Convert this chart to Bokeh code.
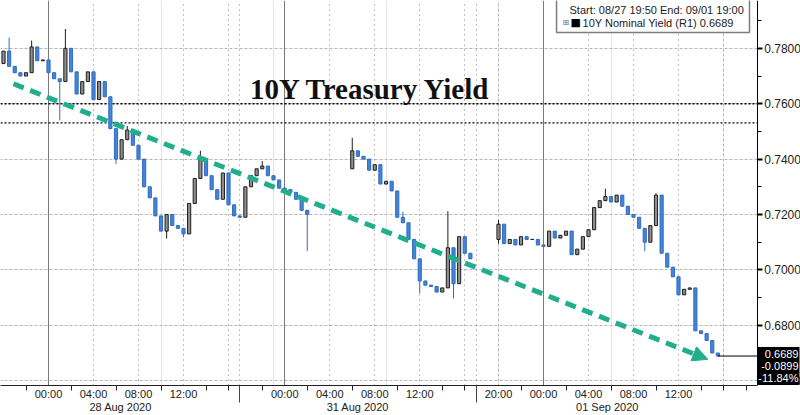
import pandas as pd
from bokeh.plotting import figure
from bokeh.models import (LinearAxis, FixedTicker, Range1d, Grid, Label,
                          Arrow, NormalHead, ColumnDataSource, NumeralTickFormatter)
from bokeh.embed import file_html
from bokeh.resources import INLINE

# ---------------- data ----------------
seg_start = ["2020-08-27 19:50", "2020-08-30 20:00", "2020-08-31 18:00"]
seg_end = ["2020-08-28 17:00", "2020-08-31 17:00", "2020-09-01 19:00"]
axis_origin = "2020-08-28 00:00"
date_labels = ["28 Aug 2020", "31 Aug 2020", "01 Sep 2020"]
date_label_t = ["2020-08-28 06:25", "2020-08-31 06:30", "2020-09-01 05:40"]

s1_times = (list(pd.date_range("2020-08-27 20:00", "2020-08-28 17:00", freq="30min")) +
            list(pd.date_range("2020-08-30 20:30", "2020-08-31 02:00", freq="30min")))
s1_open = 0.7745
s1_close = [0.7790, 0.7735, 0.7712, 0.7700, 0.7712, 0.7805, 0.7755, 0.7758, 0.7712, 0.7690,
            0.7680, 0.7800, 0.7715, 0.7635, 0.7680, 0.7715, 0.7615, 0.7680, 0.7625, 0.7510,
            0.7400, 0.7470, 0.7505, 0.7450, 0.7400, 0.7300, 0.7260, 0.7195, 0.7140, 0.7200,
            0.7160, 0.7150, 0.7130, 0.7240, 0.7330, 0.7400, 0.7340, 0.7290, 0.7255, 0.7350,
            0.7235, 0.7195, 0.7190, 0.7300, 0.7340, 0.7365, 0.7375, 0.7340, 0.7325, 0.7295,
            0.7290, 0.7280, 0.7255, 0.7215, 0.7200]

s2_times = list(pd.date_range("2020-08-31 06:00", "2020-08-31 16:30", freq="30min"))
s2_open = 0.7365
s2_close = [0.7430, 0.7410, 0.7400, 0.7360, 0.7380, 0.7310, 0.7320, 0.7285, 0.7190, 0.7170,
            0.7110, 0.7040, 0.6960, 0.6945, 0.6940, 0.6920, 0.6935, 0.7080, 0.6950, 0.7120,
            0.7060, 0.7040]

s3_times = list(pd.date_range("2020-08-31 20:00", "2020-09-01 15:30", freq="30min"))
s3_open = 0.7110
s3_close = [0.7165, 0.7095, 0.7110, 0.7090, 0.7120, 0.7110, 0.7110, 0.7090, 0.7085, 0.7140,
            0.7115, 0.7125, 0.7140, 0.7055, 0.7075, 0.7120, 0.7145, 0.7225, 0.7250, 0.7265,
            0.7245, 0.7270, 0.7230, 0.7200, 0.7190, 0.7150, 0.7100, 0.7160, 0.7270, 0.7060,
            0.7010, 0.6975, 0.6910, 0.6930, 0.6935, 0.6780, 0.6770, 0.6745, 0.6700, 0.6689]

hi_t = ["2020-08-27 20:30", "2020-08-27 22:30", "2020-08-28 01:30", "2020-08-28 07:00",
        "2020-08-28 13:30", "2020-08-30 22:00", "2020-08-31 06:00", "2020-08-31 10:30",
        "2020-08-31 14:30", "2020-08-31 20:00", "2020-09-01 05:30", "2020-09-01 10:00"]
hi_v = [0.7839, 0.7828, 0.7870, 0.7520, 0.7430, 0.7393, 0.7477, 0.7210, 0.7212, 0.7180,
        0.7293, 0.7277]
lo_t = ["2020-08-28 01:00", "2020-08-28 06:00", "2020-08-28 10:30", "2020-08-28 12:00",
        "2020-08-31 02:00", "2020-08-31 12:00", "2020-08-31 15:00", "2020-08-31 20:00",
        "2020-09-01 09:00"]
lo_v = [0.7540, 0.7383, 0.7113, 0.7118, 0.7068, 0.6915, 0.6897, 0.7095, 0.7067]

trend_t = ["2020-08-27 20:53", "2020-09-01 14:36"]
trend_v = [0.7672, 0.6677]

ref_lines = [0.7600, 0.7531]

y_ticks = [0.66, 0.68, 0.70, 0.72, 0.74, 0.76, 0.78]
y_minor = [0.67, 0.69, 0.71, 0.73, 0.75, 0.77, 0.79]
time_tick_t = ["2020-08-28 00:00", "2020-08-28 04:00", "2020-08-28 08:00", "2020-08-28 12:00",
               "2020-08-31 00:00", "2020-08-31 04:00", "2020-08-31 08:00", "2020-08-31 12:00",
               "2020-08-31 20:00", "2020-09-01 00:00", "2020-09-01 04:00", "2020-09-01 08:00",
               "2020-09-01 12:00"]
time_tick_labels = ["00:00", "04:00", "08:00", "12:00", "00:00", "04:00", "08:00", "12:00",
                    "20:00", "00:00", "04:00", "08:00", "12:00"]
minor_tick_t = ["2020-08-27 22:00", "2020-08-28 02:00", "2020-08-28 06:00", "2020-08-28 10:00",
                "2020-08-28 14:00", "2020-08-28 16:00", "2020-08-30 22:00", "2020-08-31 02:00",
                "2020-08-31 06:00", "2020-08-31 10:00", "2020-08-31 14:00", "2020-08-31 16:00",
                "2020-08-31 22:00", "2020-09-01 02:00", "2020-09-01 06:00", "2020-09-01 10:00",
                "2020-09-01 14:00", "2020-09-01 16:00", "2020-09-01 18:00"]
dotted_v_t = ["2020-08-28 04:00", "2020-08-28 08:00", "2020-08-28 12:00", "2020-08-28 16:00",
              "2020-08-28 17:00", "2020-08-31 04:00", "2020-08-31 08:00", "2020-08-31 12:00",
              "2020-08-31 16:00", "2020-08-31 17:00", "2020-08-31 20:00", "2020-09-01 04:00",
              "2020-09-01 08:00", "2020-09-01 12:00", "2020-09-01 16:00"]
solid_v_t = ["2020-08-28 00:00", "2020-08-31 00:00", "2020-09-01 00:00"]

legend_line1 = "Start: 08/27 19:50 End: 09/01 19:00"
legend_series = "10Y Nominal Yield (R1) 0.6689"
last_price = 0.6689
tag_lines = ["0.6689", "-0.0899", "-11.84%"]
title_text = "10Y Treasury Yield"

# ---------------- compressed time mapping ----------------
HOUR = pd.Timedelta(hours=1)
segs = [(pd.Timestamp(s), pd.Timestamp(e)) for s, e in zip(seg_start, seg_end)]
bases = []
b = (segs[0][0] - pd.Timestamp(axis_origin)) / HOUR
for s, e in segs:
    bases.append(b)
    b += (e - s) / HOUR
seg_ends_x = [bs + (e - s) / HOUR for (s, e), bs in zip(segs, bases)]
X_AXIS = seg_ends_x[-1]          # right axis sits at the end of the window


def xpos(t):
    t = pd.Timestamp(t)
    for (s, e), bs in zip(segs, bases):
        if s <= t <= e:
            return bs + (t - s) / HOUR
    raise ValueError(str(t))


hi_map = {pd.Timestamp(t): v for t, v in zip(hi_t, hi_v)}
lo_map = {pd.Timestamp(t): v for t, v in zip(lo_t, lo_v)}

UP_FILL, UP_LINE = "#8f8f8f", "#1e1e1e"
DN_FILL, DN_LINE = "#4384d8", "#2f6cc0"

cols = dict(x=[], top=[], bottom=[], high=[], low=[], fill=[], line=[])
for times, o0, closes in [(s1_times, s1_open, s1_close),
                          (s2_times, s2_open, s2_close),
                          (s3_times, s3_open, s3_close)]:
    opens = [o0] + closes[:-1]
    for t, o, c in zip(times, opens, closes):
        t = pd.Timestamp(t)
        up = c >= o
        cols["x"].append(xpos(t))
        cols["top"].append(max(o, c))
        cols["bottom"].append(min(o, c))
        cols["high"].append(max(o, c, hi_map.get(t, -1)))
        cols["low"].append(min(o, c, lo_map.get(t, 9)))
        cols["fill"].append(UP_FILL if up else DN_FILL)
        cols["line"].append(UP_LINE if up else DN_LINE)
src = ColumnDataSource(cols)

PX_PER_H = 11.25
X0 = -4.267
X1 = X0 + 800 / PX_PER_H
Y1 = 0.79727
Y0 = 0.65826

p = figure(width=800, height=415, output_backend="svg", toolbar_location=None,
           x_range=Range1d(X0, X1), y_range=Range1d(Y0, Y1),
           x_axis_location=None, y_axis_location=None,
           min_border_left=0, min_border_top=0, min_border_bottom=0, min_border_right=0)
p.outline_line_color = None
p.background_fill_color = "white"
p.border_fill_color = "white"

FONT = "Liberation Sans"
TXT = "#222222"

p.add_layout(Grid(dimension=1, ticker=FixedTicker(ticks=y_ticks),
                  grid_line_color="#808080", grid_line_dash="1 4", grid_line_width=1))
p.add_layout(Grid(dimension=0, ticker=FixedTicker(ticks=[xpos(t) for t in dotted_v_t]),
                  grid_line_color="#808080", grid_line_dash="1 4", grid_line_width=1))
p.add_layout(Grid(dimension=0, ticker=FixedTicker(ticks=[xpos(t) for t in solid_v_t]),
                  grid_line_color="#7a7a7a", grid_line_width=1))

# drawn reference lines (stop at the axis)
p.segment(x0=[X0] * len(ref_lines), y0=ref_lines, x1=[X_AXIS] * len(ref_lines), y1=ref_lines,
          line_color="black", line_dash="2 2", line_width=[1.6, 1.1])

p.segment(x0="x", y0="low", x1="x", y1="high", line_color="line", line_width=1, source=src)
p.vbar(x="x", width=0.28, top="top", bottom="bottom", fill_color="fill",
       line_color="line", line_width=1, source=src)

last_x = cols["x"][-1]
p.segment(x0=[last_x], y0=[last_price], x1=[X_AXIS], y1=[last_price],
          line_color="black", line_width=1)

# blank margin to the right of the axis (hides grid lines there)
p.quad(left=[X_AXIS], right=[X1 + 1], bottom=[Y0 - 1], top=[Y1 + 1],
       fill_color="white", line_color=None)

TEAL = "#21ae8c"
p.add_layout(Arrow(end=NormalHead(size=15, fill_color=TEAL, line_color=TEAL),
                   x_start=xpos(trend_t[0]), y_start=trend_v[0],
                   x_end=xpos(trend_t[1]), y_end=trend_v[1],
                   line_color=TEAL, line_width=5, line_dash="11 7"))

p.add_layout(Label(x=28.62, y=0.76541, text=title_text, text_align="center",
                   text_baseline="alphabetic", text_font="Liberation Serif",
                   text_font_style="bold", text_font_size="29px", text_color="#111111"))

# legend box
p.quad(left=[45.16], right=[62.31], bottom=[0.78568], top=[0.80], fill_color="white",
       line_color="#7d7d7d", line_width=1.5)
p.add_layout(Label(x=46.31, y=0.79401, text=legend_line1, text_baseline="middle",
                   text_font=FONT, text_font_size="11px", text_color=TXT))
p.add_layout(Label(x=45.69, y=0.7893, text="\u229e", text_baseline="middle",
                   text_font="DejaVu Sans", text_font_size="8px", text_color="#666666"))
p.add_layout(Label(x=46.4, y=0.7893, text="\u25a0", text_baseline="middle",
                   text_font="DejaVu Sans", text_font_size="11px", text_color="black"))
p.add_layout(Label(x=47.47, y=0.7893, text=legend_series, text_baseline="middle",
                   text_font=FONT, text_font_size="11px", text_color=TXT))

# right axis at the end of the time window
ya = LinearAxis(fixed_location=X_AXIS,
                ticker=FixedTicker(ticks=y_ticks, minor_ticks=y_minor),
                formatter=NumeralTickFormatter(format="0.0000"),
                axis_line_color="black", major_tick_out=5, major_tick_in=0,
                major_tick_line_width=2, minor_tick_out=4, minor_tick_in=0,
                major_label_standoff=2, major_label_text_font=FONT,
                major_label_text_font_size="12px", major_label_text_color=TXT)
p.add_layout(ya, "right")

tick_x = [xpos(t) for t in time_tick_t]
ta = LinearAxis(ticker=FixedTicker(ticks=tick_x, minor_ticks=[xpos(t) for t in minor_tick_t]),
                major_label_overrides={x: l for x, l in zip(tick_x, time_tick_labels)},
                bounds=(X0, X_AXIS),
                major_tick_out=0, major_tick_in=0, minor_tick_out=5, minor_tick_in=0,
                axis_line_color="#222222", minor_tick_line_color="#222222",
                major_label_standoff=-3, major_label_text_font=FONT,
                major_label_text_font_size="11px", major_label_text_color=TXT)
p.add_layout(ta, "below")

date_x = [xpos(t) for t in date_label_t]
da = LinearAxis(ticker=FixedTicker(ticks=date_x, minor_ticks=seg_ends_x[:-1]),
                major_label_overrides={x: l for x, l in zip(date_x, date_labels)},
                major_tick_out=0, major_tick_in=0, minor_tick_out=0, minor_tick_in=17,
                minor_tick_line_color="#444444", axis_line_color=None,
                major_label_standoff=-2, major_label_text_font=FONT,
                major_label_text_font_size="11px", major_label_text_color=TXT)
p.add_layout(da, "below")

# last price tag beside the axis
p.add_layout(Label(x=X_AXIS, y=last_price, text="\u25c0", text_baseline="middle",
                   text_align="left", x_offset=0, text_font="DejaVu Sans",
                   text_font_size="9px", text_color="black"))
p.add_layout(Label(x=X1, y=last_price, text="\n".join(tag_lines), text_align="right",
                   text_baseline="top", x_offset=-1, y_offset=9, text_font=FONT,
                   text_font_size="11px", text_color="white", text_line_height=1.0,
                   background_fill_color="black", padding=1))

open("out.html", "w").write(file_html(p, INLINE))
